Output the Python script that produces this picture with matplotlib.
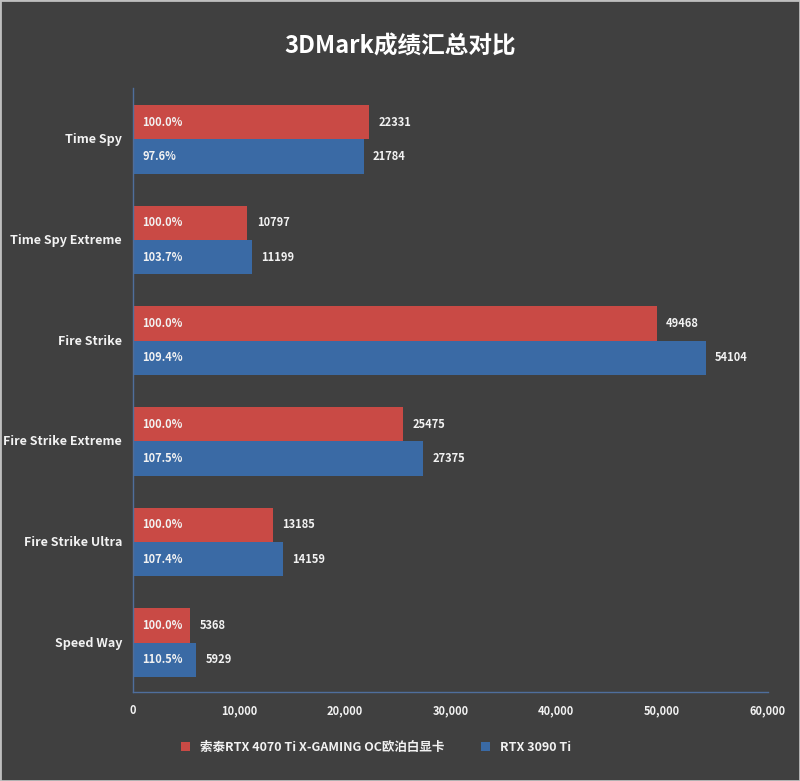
import matplotlib
matplotlib.use("Agg")
import matplotlib.pyplot as plt
import numpy as np

plt.rcParams['font.family'] = ['Noto Sans CJK SC', 'DejaVu Sans']

categories = ["Time Spy", "Time Spy Extreme", "Fire Strike", "Fire Strike Extreme",
              "Fire Strike Ultra", "Speed Way"]
series_names = ["索泰RTX 4070 Ti X-GAMING OC欧泊白显卡", "RTX 3090 Ti"]
scores_a = [22331, 10797, 49468, 25475, 13185, 5368]
scores_b = [21784, 11199, 54104, 27375, 14159, 5929]
pct_a = ["100.0%", "100.0%", "100.0%", "100.0%", "100.0%", "100.0%"]
pct_b = ["97.6%", "103.7%", "109.4%", "107.5%", "107.4%", "110.5%"]
xticks = [0, 10000, 20000, 30000, 40000, 50000, 60000]

bg = "#404040"
red = "#C94A45"
blue = "#3A6AA5"
txt = "#F2F2F2"

fig = plt.figure(figsize=(8, 7.81), dpi=100, facecolor=bg)
ax = fig.add_axes([0.16625, 0.114, 0.79375, 0.7733])
ax.set_facecolor(bg)

y = np.arange(len(categories))
h = 0.34
ax.barh(y - h/2 + 0.01, scores_a, height=h, color=red, label=series_names[0])
ax.barh(y + h/2 + 0.01, scores_b, height=h, color=blue, label=series_names[1])

for i in range(len(categories)):
    ax.text(900, y[i] - h/2 + 0.01, pct_a[i], color=txt, fontsize=8, fontweight='bold', va='center', ha='left')
    ax.text(900, y[i] + h/2 + 0.01, pct_b[i], color=txt, fontsize=8, fontweight='bold', va='center', ha='left')
    ax.text(scores_a[i] + 900, y[i] - h/2 + 0.01, str(scores_a[i]), color=txt, fontsize=8, fontweight='bold', va='center', ha='left')
    ax.text(scores_b[i] + 900, y[i] + h/2 + 0.01, str(scores_b[i]), color=txt, fontsize=8, fontweight='bold', va='center', ha='left')

ax.set_ylim(len(categories) - 0.5, -0.5)
ax.set_xlim(0, 60000)
ax.set_yticks(y)
ax.set_yticklabels(categories, color=txt, fontsize=9, fontweight='bold')
ax.set_xticks(xticks)
ax.set_xticklabels([f"{v:,}" for v in xticks], color=txt, fontsize=8, fontweight='bold')
ax.tick_params(length=0, pad=8)
ax.tick_params(axis='x', pad=9)
for s in ['top', 'right']:
    ax.spines[s].set_visible(False)
for s in ['left', 'bottom']:
    ax.spines[s].set_color("#4F6E9C")
    ax.spines[s].set_linewidth(1.0)

fig.text(0.5, 0.941, "3DMark成绩汇总对比", color="white", fontsize=17, fontweight='bold', ha='center', va='center')

leg = fig.legend(loc='center', bbox_to_anchor=(0.47, 0.043), ncol=2, frameon=False,
                 fontsize=9, handlelength=0.7, handleheight=0.7, columnspacing=3)
for t in leg.get_texts():
    t.set_color(txt)
    t.set_fontweight('bold')

fig.patches.append(plt.Rectangle((0, 0), 1, 1, transform=fig.transFigure, fill=False,
                                 edgecolor="#BFBFBF", linewidth=2))
fig.savefig("out.png", dpi=100, facecolor=bg)
